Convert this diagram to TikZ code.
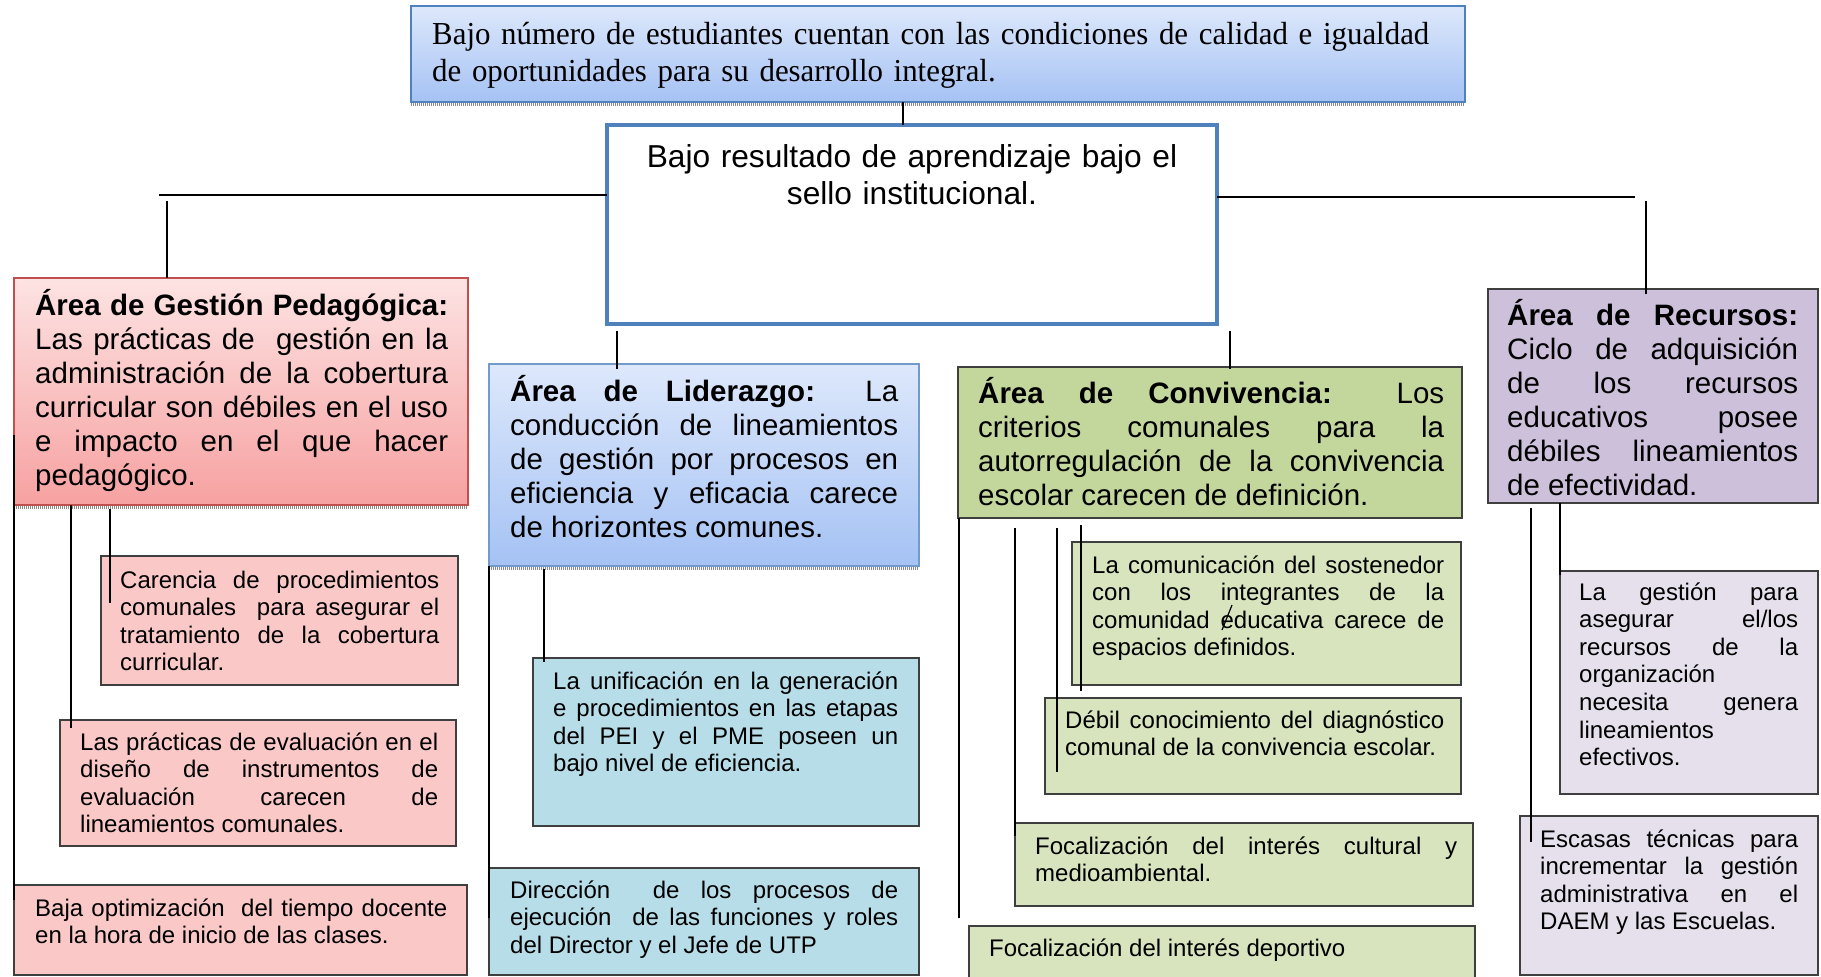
\documentclass[tikz,border=0pt]{standalone}
\usepackage{fontspec}
\setmainfont{Liberation Sans}
\newfontfamily\tnr[FakeStretch=0.965]{Liberation Serif}
\usetikzlibrary{calc}

\definecolor{azulA}{HTML}{DDE8FB}
\definecolor{azulB}{HTML}{A5C2F4}
\definecolor{azulBorde}{HTML}{4F81BD}
\definecolor{rojoA}{HTML}{FDE3E3}
\definecolor{rojoB}{HTML}{F7A1A1}
\definecolor{rojoBorde}{HTML}{C0504D}
\definecolor{rosa}{HTML}{FBC8C8}
\definecolor{celeste}{HTML}{B7DDE8}
\definecolor{verde}{HTML}{C3D69B}
\definecolor{verdeClaro}{HTML}{D7E4BD}
\definecolor{lila}{HTML}{CCC0DA}
\definecolor{lilaClaro}{HTML}{E5E0EC}
\definecolor{borde}{HTML}{3F3F3F}

\pretolerance=10000
\tolerance=10000
\hbadness=10000
\hyphenpenalty=10000

\begin{document}
\begin{tikzpicture}[x=1pt, y=-1pt,
    marco/.style={inner sep=0pt, outer sep=0pt, anchor=north west},
    caja/.style={marco, draw=borde, line width=1.5pt},
    linea/.style={line width=1.8pt},
    sombra/.style={line width=3.5pt, black!45, dash pattern=on 1pt off 1pt},
    txt/.style={anchor=base west, inner sep=0pt, text width=#1, align=justify, font=\fontsize{29.5}{34}\selectfont},
    txtch/.style={anchor=base west, inner sep=0pt, text width=#1, align=justify, font=\fontsize{24}{27.6}\selectfont}]

    \useasboundingbox (0,0) rectangle (1821,977);
    \clip (0,0) rectangle (1821,977);
    \fill[white] (0,0) rectangle (1821,977);

    \begin{scope}
        \node[marco, draw=azulBorde, line width=1.8pt, top color=azulA, bottom color=azulB, minimum width=1054, minimum height=96] (sup) at (411,6) {};
        \node[marco, draw=azulBorde, line width=4.5pt, fill=white, minimum width=610, minimum height=199] (cen) at (607,125) {};
        \node[marco, draw=rojoBorde, line width=1.8pt, top color=rojoA, bottom color=rojoB, minimum width=454, minimum height=227] (ped) at (14,278) {};
        \node[marco, draw=azulBorde!80, line width=1.8pt, top color=azulA, bottom color=azulB, minimum width=430, minimum height=202] (lid) at (489,364) {};
        \node[caja, fill=verde, minimum width=504, minimum height=151] (con) at (958,367) {};
        \node[caja, fill=lila, minimum width=330, minimum height=214] (rec) at (1488,289) {};

        \foreach \n in {sup,ped,lid}
        {
            \draw[sombra] ([yshift=-2.5pt]\n.south west) -- ([yshift=-2.5pt]\n.south east);
        }
    \end{scope}

    \begin{scope}
        \node[caja, fill=rosa, minimum width=357, minimum height=129] (pedA) at (101,556) {};
        \node[caja, fill=rosa, minimum width=396, minimum height=126] (pedB) at (60,720) {};
        \node[caja, fill=rosa, minimum width=453, minimum height=90] (pedC) at (14,885) {};
        \node[caja, fill=celeste, minimum width=386, minimum height=168] (lidA) at (533,658) {};
        \node[caja, fill=celeste, minimum width=430, minimum height=107] (lidB) at (489,868) {};
        \node[caja, fill=verdeClaro, minimum width=389, minimum height=143] (conA) at (1072,542) {};
        \node[caja, fill=verdeClaro, minimum width=416, minimum height=96] (conB) at (1045,698) {};
        \node[caja, fill=verdeClaro, minimum width=458, minimum height=83] (conC) at (1015,823) {};
        \node[caja, fill=verdeClaro, minimum width=506, minimum height=70] (conD) at (969,926) {};
        \node[caja, fill=lilaClaro, minimum width=258, minimum height=223] (recA) at (1560,571) {};
        \node[caja, fill=lilaClaro, minimum width=298, minimum height=159] (recB) at (1520,816) {};
    \end{scope}

    \begin{scope}[linea]
        \draw (cen.north) ++(-9,0) -- ++(0,-23);
        \draw (cen.west) ++(0,-29.5) -- ++(-448,0);
        \draw (ped.north west) ++(153,0) -- ++(0,-77);
        \draw (cen.east) ++(0,-27.5) -- ++(418,0);
        \draw (rec.north west) ++(158,5) -- ++(0,-93);
        \draw (cen.south west) ++(10,7) -- ++(0,38);
        \draw (cen.south east) ++(13,7) -- ++(0,38);

        \draw (ped.south west) ++(0,-70) -- ++(0,465);
        \draw (ped.south west) ++(57,0) -- ++(0,223);
        \draw (ped.south -| pedA.west) ++(9,4) -- ++(0,94);

        \draw (lid.south -| lidA.west) ++(11,3) -- ++(0,93);
        \draw (lid.south west) -- ++(0,352);

        \draw (con.south west) ++(1,0) -- ++(0,400);
        \draw (con.south -| conC.west) ++(0,10) -- ++(0,308);
        \draw (con.south -| conB.west) ++(12,10) -- ++(0,244);
        \draw (con.south -| conA.west) ++(9,7) -- ++(0,166);

        \draw (rec.south -| recA.west) -- ++(0,72);
        \draw (rec.south -| recB.west) ++(11,5) -- ++(0,334);

        \draw[line width=1.2pt] (conA.north west) ++(160,63) -- ++(-10,25);
    \end{scope}

    \node[anchor=base west, inner sep=0pt, text width=1030, align=left, font=\tnr\fontsize{32}{37}\selectfont] (supt) at (432,44)
        {Bajo número de estudiantes cuentan con las condiciones de calidad e igualdad\\de oportunidades para su desarrollo integral.};
    \node[anchor=base, inner sep=0pt, text width=580, align=center, font=\fontsize{31.7}{37}\selectfont] (cent) at (912,167)
        {Bajo resultado de aprendizaje bajo el\\sello institucional.};

    \node[txt=413] (pedt) at (35,315) {{\bfseries Área de Gestión Pedagógica:}\linebreak Las prácticas de~ gestión en la\linebreak administración de la cobertura\linebreak curricular son débiles en el uso\linebreak e impacto en el que hacer\linebreak pedagógico.};
    \node[txt=388] (lidt) at (510,401) {{\bfseries Área de Liderazgo:} La\linebreak conducción de lineamientos\linebreak de gestión por procesos en\linebreak eficiencia y eficacia carece\linebreak de horizontes comunes.};
    \node[txt=466] (cont) at (978,403) {{\bfseries Área de Convivencia:} Los\linebreak criterios comunales para la\linebreak autorregulación de la convivencia\linebreak escolar carecen de definición.};
    \node[txt=291] (rect) at (1507,325) {{\bfseries Área de Recursos:}\linebreak Ciclo de adquisición\linebreak de los recursos\linebreak educativos posee\linebreak débiles lineamientos\linebreak de efectividad.};

    \node[txtch=319] (pedAt) at (120,588) {Carencia de procedimientos\linebreak comunales~ para asegurar el\linebreak tratamiento de la cobertura\linebreak curricular.};
    \node[txtch=358] (pedBt) at (80,750) {Las prácticas de evaluación en el\linebreak diseño de instrumentos de\linebreak evaluación carecen de\linebreak lineamientos comunales.};
    \node[txtch=412] (pedCt) at (35,916) {Baja optimización~ del tiempo docente\linebreak en la hora de inicio de las clases.};
    \node[txtch=345] (lidAt) at (553,689) {La unificación en la generación\linebreak e procedimientos en las etapas\linebreak del PEI y el PME poseen un\linebreak bajo nivel de eficiencia.};
    \node[txtch=388] (lidBt) at (510,898) {Dirección~ de los procesos de\linebreak ejecución~ de las funciones y roles\linebreak del Director y el Jefe de UTP};
    \node[txtch=352] (conAt) at (1092,573) {La comunicación del sostenedor\linebreak con los integrantes de la\linebreak comunidad educativa carece de\linebreak espacios definidos.};
    \node[txtch=379] (conBt) at (1065,728) {Débil conocimiento del diagnóstico\linebreak comunal de la convivencia escolar.};
    \node[txtch=422] (conCt) at (1035,854) {Focalización del interés cultural y\linebreak medioambiental.};
    \node[txtch=440] (conDt) at (989,956) {Focalización del interés deportivo};
    \node[txtch=219] (recAt) at (1579,600) {La gestión para\linebreak asegurar el/los\linebreak recursos de la\linebreak organización\linebreak necesita genera\linebreak lineamientos\linebreak efectivos.};
    \node[txtch=258] (recBt) at (1540,847) {Escasas técnicas para\linebreak incrementar la gestión\linebreak administrativa en el\linebreak DAEM y las Escuelas.};
\end{tikzpicture}
\end{document}
